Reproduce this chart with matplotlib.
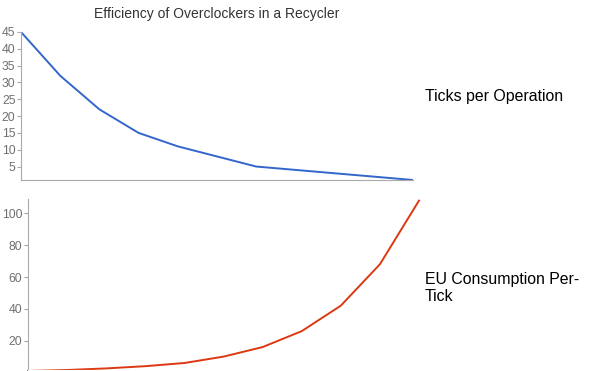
import matplotlib
matplotlib.use("Agg")
from matplotlib import pyplot as plt

plt.rcParams['font.family'] = ['Liberation Sans', 'DejaVu Sans']

# number of overclockers 0..10
overclockers = list(range(11))
ticks_per_op = [45, 32, 22, 15, 11, 8, 5, 4, 3, 2, 1]
eu_per_tick = [1, 1.6, 2.6, 4, 6, 10, 16, 26, 42, 68, 108]

top_ticks = [5, 10, 15, 20, 25, 30, 35, 40, 45]
bottom_ticks = [20, 40, 60, 80, 100]

fig = plt.figure(figsize=(6, 3.71), dpi=100)

ax1 = fig.add_axes([21 / 600, 1 - 180 / 371, 392 / 600, 148 / 371])
ax1.plot(overclockers, ticks_per_op, color='#3366cc', lw=1.4)
ax1.set_xlim(0, 10)
ax1.set_ylim(1, 45)
ax1.set_yticks(top_ticks)

ax2 = fig.add_axes([28 / 600, 1 - 370 / 371, 391 / 600, 171 / 371])
ax2.plot(overclockers, eu_per_tick, color='#dc3912', lw=1.4, clip_on=False)
ax2.set_xlim(0, 10)
ax2.set_ylim(1.6, 109)
ax2.set_yticks(bottom_ticks)

for ax in (ax1, ax2):
    for s in ('top', 'right'):
        ax.spines[s].set_visible(False)
    ax.spines['left'].set_color('#aaaaaa')
    ax.spines['bottom'].set_color('#aaaaaa')
    ax.set_xticks([])
    ax.tick_params(axis='y', colors='#aaaaaa', labelcolor='#707070',
                   labelsize=8.7, length=3, width=0.8, pad=1)
ax2.spines['bottom'].set_color('#ffffff')

fig.text(217 / 600, 1 - 14 / 371, "Efficiency of Overclockers in a Recycler",
         ha='center', va='center', fontsize=10, color='#333333')
fig.text(425 / 600, 1 - 97 / 371, "Ticks per Operation",
         ha='left', va='center', fontsize=11.4, color='#000000')
fig.text(425 / 600, 1 - 288 / 371, "EU Consumption Per-\nTick",
         ha='left', va='center', fontsize=11.4, color='#000000', linespacing=1.2)

plt.savefig("out.png", dpi=100)
plt.close()
